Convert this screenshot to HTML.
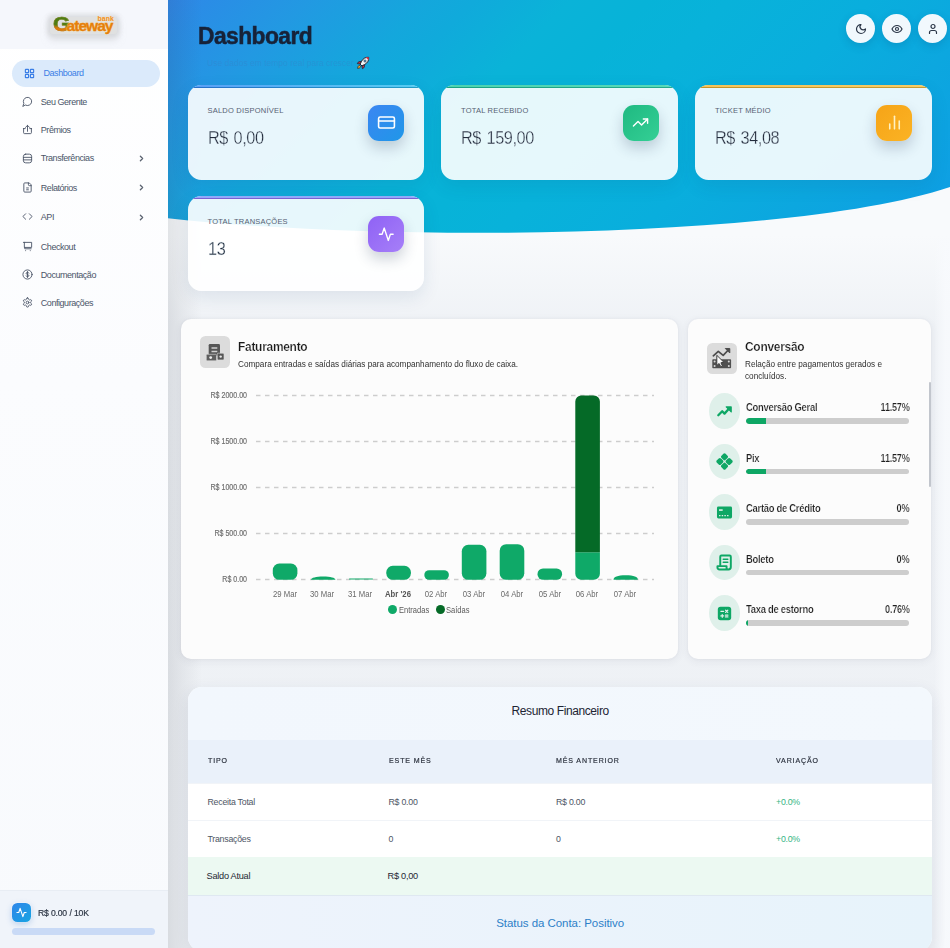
<!DOCTYPE html>
<html lang="pt-BR">
<head>
<meta charset="utf-8">
<title>Dashboard</title>
<style>
*{box-sizing:border-box;margin:0;padding:0}
html,body{width:950px;height:948px;overflow:hidden}
body{font-family:"Liberation Sans",sans-serif;background:linear-gradient(180deg,#f8fafc 0,#f8fafc 235px,#eff2f6 325px,#eef1f5 100%);position:relative;color:#334155}
.abs{position:absolute}
svg{display:block}
/* ---------- main backdrop ---------- */
#wave{position:absolute;left:168px;top:0;width:782px;height:260px}
#sideshadow{position:absolute;left:168px;top:0;width:34px;height:948px;background:linear-gradient(90deg,rgba(50,55,65,.115),rgba(50,55,65,.06) 45%,rgba(50,55,65,0))}
/* ---------- sidebar ---------- */
#sidebar{position:absolute;left:0;top:0;width:168px;height:948px;background:linear-gradient(180deg,#ffffff 0%,#fbfcfe 40%,#f8fafd 100%)}
#logo{position:absolute;left:0;top:0;width:168px;height:48.500px;background:#f5f7fc}
.nav{position:absolute;left:12px;width:148px;height:27px;border-radius:14px;font-size:9px;color:#4b5568;white-space:nowrap}
.nav svg{position:absolute;left:10px;top:8px;width:11px;height:11px;stroke:#4b5568;fill:none;stroke-width:2;stroke-linecap:round;stroke-linejoin:round}
.nav span{position:absolute;left:28.800px;top:8.800px;line-height:11px;letter-spacing:-.45px}
.nav .chev{left:125px;top:9.400px;width:9px;height:9px;stroke:#5b6370;stroke-width:3.500}
.nav.on{background:#dbeafb;color:#3b7fe6}
.nav.on svg{left:12px;stroke:#3b7fe6;stroke-width:2.500}
.nav.on span{left:31.5px}
#sfoot{position:absolute;left:0;top:890px;width:168px;height:58px;background:#f0f4fa;border-top:1px solid #e8edf4}

/* ---------- header ---------- */
#title{position:absolute;left:197.500px;top:20px;font-size:24.400px;font-weight:700;color:#172238;letter-spacing:-.6px;line-height:32px;-webkit-text-stroke:.5px #172238;transform:scaleX(.935);transform-origin:0 0}
#sub{position:absolute;left:207px;top:58px;font-size:8.500px;line-height:11px;color:rgba(60,120,190,.32);white-space:nowrap}
.cbtn{position:absolute;top:14px;width:29px;height:29px;border-radius:50%;background:#f1f8fd;box-shadow:0 3px 8px rgba(10,60,110,.18)}
.cbtn svg{position:absolute;left:8.500px;top:8.500px;width:12px;height:12px;fill:none;stroke:#2b3648;stroke-width:2.4;stroke-linecap:round;stroke-linejoin:round}
/* ---------- stat cards ---------- */
.stat{position:absolute;width:236.5px;height:95px;border-radius:13.5px;background:rgba(255,255,255,.9);overflow:hidden;box-shadow:0 6px 18px rgba(20,60,110,.10)}
.stat i{position:absolute;left:0;top:0;width:100%;height:3.600px}
.stat .lb{position:absolute;left:20px;top:21.600px;font-size:7.5px;line-height:10px;letter-spacing:.22px;color:#566173;white-space:nowrap}
.stat .vl{position:absolute;left:20px;top:41.100px;word-spacing:1.500px;transform:scaleX(.905);transform-origin:0 0;font-size:18px;line-height:24px;color:#222c3c;letter-spacing:-.45px;white-space:nowrap;-webkit-text-stroke:.33px #e9f5fc}
.stat .ic{position:absolute;left:180.500px;top:20.100px;width:36px;height:36.500px;border-radius:11px;box-shadow:0 7px 14px rgba(30,50,80,.22)}
.stat .ic svg{position:absolute;left:8.500px;top:8.750px;width:19px;height:19px;fill:none;stroke:#fff;stroke-width:2;stroke-linecap:round;stroke-linejoin:round}

/* ---------- chart + conversion cards ---------- */
.panel{position:absolute;top:319px;height:340.300px;background:#fcfcfc;border-radius:10px;box-shadow:0 2px 8px rgba(60,50,75,.075),0 0 3px rgba(60,50,75,.05)}
.pico{position:absolute;border-radius:5.500px;background:#dcdcdc}
.ptitle{position:absolute;font-size:12.800px;line-height:16px;font-weight:700;color:#1a1a1a;white-space:nowrap;letter-spacing:-.3px;transform:scaleX(.935);transform-origin:0 0;-webkit-text-stroke:.22px #fcfcfc}
.psub{position:absolute;font-size:9px;line-height:12px;color:#303030;white-space:nowrap;transform:scaleX(.91);transform-origin:0 0}
.yl{position:absolute;right:430.200px;width:60px;text-align:right;font-size:8.500px;line-height:10px;color:#707070;white-space:nowrap;transform:scaleX(.83);transform-origin:100% 0;-webkit-text-stroke:.2px #707070}
.xl{position:absolute;top:269.700px;width:44px;margin-left:-22px;text-align:center;font-size:8.600px;line-height:10px;color:#6a6a6a;white-space:nowrap;transform:scaleX(.9)}
.lg{position:absolute;top:285.800px;font-size:8.600px;line-height:10px;color:#5a5a5a;white-space:nowrap;transform:scaleX(.88);transform-origin:0 0}
.cv{position:absolute;left:19.500px;width:204px;height:34px}
.cv .c{position:absolute;left:1.500px;top:-1.100px;width:30.600px;height:35.400px;border-radius:50%;background:#dff0ea}
.cv .c svg{position:absolute;left:6.800px;top:9.200px;width:17px;height:17px}
.cv .n{position:absolute;left:38.800px;top:7.500px;font-size:10.300px;line-height:12px;font-weight:700;color:#1f1f1f;white-space:nowrap;letter-spacing:-.3px;transform:scaleX(.915);transform-origin:0 0;-webkit-text-stroke:.2px #fcfcfc}
.cv .p{position:absolute;right:2.300px;top:7.500px;font-size:10.300px;line-height:12px;font-weight:700;color:#1f1f1f;white-space:nowrap;letter-spacing:-.3px;transform:scaleX(.89);transform-origin:100% 0;-webkit-text-stroke:.2px #fcfcfc}
.cv .b{position:absolute;left:38.800px;top:23.500px;width:162.700px;height:5.800px;border-radius:3px;background:#cdcdcd;overflow:hidden}
.cv .b u{display:block;height:5.800px;background:#0ea765;border-radius:3px 0 0 3px}

/* ---------- table ---------- */
#tbl{position:absolute;left:188px;top:686.500px;width:744.300px;height:264px;border-radius:14px;overflow:hidden;background:#fff;box-shadow:0 4px 16px rgba(40,60,100,.09)}
#tbl .hd{position:absolute;left:0;top:0;width:100%;height:53px;background:linear-gradient(90deg,#f2f7fd,#f3f8fd)}
#tbl .hd div{position:absolute;left:0;width:100%;top:17.500px;text-align:center;font-size:12px;line-height:14px;color:#1d2433;letter-spacing:-.4px}
#tbl .th{position:absolute;left:0;top:53px;width:100%;height:43px;background:#eaf1fa}
#tbl .th span{position:absolute;top:16.500px;font-size:8px;line-height:10px;letter-spacing:1px;color:#2a303c;white-space:nowrap;-webkit-text-stroke:.2px #2a303c;transform:scaleX(.88);transform-origin:0 0}
#tbl .tr{position:absolute;left:0;width:100%;height:37.500px;background:#fff;border-top:1px solid #f1f4f8}
#tbl .tr span{position:absolute;top:13px;font-size:8.800px;line-height:11px;color:#4d5664;white-space:nowrap;letter-spacing:-.25px}
#tbl .ft{position:absolute;left:0;top:208.500px;width:100%;height:72px;background:linear-gradient(90deg,#eef3fc,#e7f3fb);border-top:1px solid #dfe8f1}
#tbl .ft div{position:absolute;left:0;width:100%;top:19.500px;text-align:center;font-size:11.500px;line-height:14px;color:#2d7fc8;letter-spacing:-.05px}
</style>
</head>
<body>

<!-- ===== backdrop ===== -->
<svg id="wave" viewBox="0 0 782 260" preserveAspectRatio="none">
  <defs>
    <linearGradient id="wg" gradientUnits="userSpaceOnUse" x1="0" y1="0" x2="500" y2="500">
      <stop offset="0" stop-color="#3087e9"/>
      <stop offset="0.042" stop-color="#2a8de6"/>
      <stop offset="0.14" stop-color="#2299e2"/>
      <stop offset="0.26" stop-color="#14a7dc"/>
      <stop offset="0.307" stop-color="#10aadb"/>
      <stop offset="0.402" stop-color="#0ab3d8"/>
      <stop offset="0.48" stop-color="#07b3d8"/>
      <stop offset="0.562" stop-color="#08b2da"/>
      <stop offset="0.702" stop-color="#09aedd"/>
      <stop offset="0.832" stop-color="#0ca7df"/>
      <stop offset="0.907" stop-color="#0da3e1"/>
      <stop offset="1" stop-color="#0f9ee4"/>
    </linearGradient>
  </defs>
  <path d="M0,0 L0,218.3 C 224,243 629,238.400 782,187 L782,0 Z" fill="url(#wg)"/>
</svg>
<div id="sideshadow"></div>
<div class="abs" style="left:934px;top:240px;width:16px;height:708px;background:linear-gradient(90deg,rgba(248,250,253,0),rgba(248,250,253,.85) 70%)"></div>


<!-- ===== header ===== -->
<div id="title">Dashboard</div>
<div id="sub">Use dados em tempo real para crescer</div>
<svg class="abs" style="left:356px;top:56px;width:14px;height:14px" viewBox="0 0 14 14">
  <path d="M12.700 1.300c-3-.3-5.600 1.100-7.400 4.200L4 8l2 2 2.500-1.300c3.100-1.800 4.500-4.400 4.200-7.400Z" fill="#f2f4f7" stroke="#1d2330" stroke-width="1"/>
  <path d="M12.700 1.300c-1-.1-2 0-2.900.3l2.600 2.600c.3-.9.400-1.900.3-2.900Z" fill="#e0344a"/>
  <path d="M5.300 5.500 2.600 5.800 1.300 7.600l2.700.4ZM8.500 8.700l-.3 2.700-1.800 1.300-.4-2.700Z" fill="#e0344a" stroke="#1d2330" stroke-width=".8"/>
  <path d="M3.600 9.300c-1.200.2-1.900 1.300-2 3.100 1.800-.1 2.900-.800 3.100-2Z" fill="#f7a928" stroke="#1d2330" stroke-width=".7"/>
  <circle cx="9" cy="5" r="1.100" fill="#6fb6e8" stroke="#1d2330" stroke-width=".6"/>
</svg>

<div class="cbtn" style="left:846px"><svg viewBox="0 0 24 24"><path d="M12 3a6 6 0 0 0 9 9 9 9 0 1 1-9-9Z"/></svg></div>
<div class="cbtn" style="left:882px"><svg viewBox="0 0 24 24"><path d="M2 12s3.500-7 10-7 10 7 10 7-3.500 7-10 7-10-7-10-7Z"/><circle cx="12" cy="12" r="3"/></svg></div>
<div class="cbtn" style="left:918px"><svg viewBox="0 0 24 24"><path d="M19 21v-2a4 4 0 0 0-4-4H9a4 4 0 0 0-4 4v2"/><circle cx="12" cy="7" r="4"/></svg></div>

<!-- ===== stat cards ===== -->
<div class="stat" style="left:187.500px;top:84.600px">
  <i style="background:linear-gradient(180deg,rgba(255,255,255,.2) 0,rgba(255,255,255,.2) 53%,rgba(0,20,40,.2) 58%,rgba(0,20,40,.2) 100%),linear-gradient(90deg,#2f86f4,#2bc0ee)"></i>
  <div class="lb">SALDO DISPONÍVEL</div><div class="vl">R$ 0,00</div>
  <div class="ic" style="background:linear-gradient(135deg,#3b86f2,#1f97e8)"><svg viewBox="0 0 24 24"><rect x="2" y="5" width="20" height="14" rx="2"/><path d="M2 10h20"/></svg></div>
</div>
<div class="stat" style="left:441px;top:84.600px">
  <i style="background:linear-gradient(180deg,rgba(255,255,255,.2) 0,rgba(255,255,255,.2) 53%,rgba(0,20,40,.2) 58%,rgba(0,20,40,.2) 100%),linear-gradient(90deg,#1fc79a,#2cd0a6)"></i>
  <div class="lb">TOTAL RECEBIDO</div><div class="vl">R$ 159,00</div>
  <div class="ic" style="left:181.500px;background:linear-gradient(135deg,#1fb981,#34cf95)"><svg viewBox="0 0 24 24" style="left:9.500px;top:9.750px;width:17px;height:17px"><path d="M22 7l-8.500 8.500-5-5L2 17"/><path d="M16 7h6v6"/></svg></div>
</div>
<div class="stat" style="left:695px;top:84.600px">
  <i style="background:linear-gradient(180deg,rgba(255,255,255,.2) 0,rgba(255,255,255,.2) 53%,rgba(0,20,40,.2) 58%,rgba(0,20,40,.2) 100%),linear-gradient(90deg,#f5b32c,#f7bf3a)"></i>
  <div class="lb">TICKET MÉDIO</div><div class="vl">R$ 34,08</div>
  <div class="ic" style="left:181px;background:linear-gradient(135deg,#f6a417,#fbb324)"><svg viewBox="0 0 24 24" style="stroke:#fff1c2"><path d="M18 20V10"/><path d="M12 20V4"/><path d="M6 20v-6"/></svg></div>
</div>
<div class="stat" style="left:187.500px;top:195.500px">
  <i style="background:linear-gradient(180deg,#92a8f9 0,#92a8f9 55%,#7b60d3 59%,#7b60d3 100%);height:3.800px"></i>
  <div class="lb">TOTAL TRANSAÇÕES</div><div class="vl">13</div>
  <div class="ic" style="background:linear-gradient(135deg,#8f62f5,#a67ff8)"><svg viewBox="0 0 24 24" style="left:9.750px;top:10px;width:16.500px;height:16.500px"><path d="M22 12h-4l-3 9L9 3l-3 9H2"/></svg></div>
</div>


<!-- ===== faturamento ===== -->
<div class="panel" style="left:180.500px;width:497px">
  <div class="pico" style="left:19.700px;top:17.300px;height:32.200px;width:30.200px">
    <svg class="abs" style="left:0;top:0;width:30.200px;height:32.200px" viewBox="0 0 30.200 32.200">
      <rect x="8.700" y="7.900" width="11.300" height="12" rx="1.300" fill="#565656"/>
      <path d="M11.500 11.900h5.800M11.500 15.400h5.800" stroke="#cfcfcf" stroke-width="1.500"/>
      <rect x="17.300" y="17.200" width="6.700" height="6.700" rx="1" fill="#565656" stroke="#dcdcdc" stroke-width=".6"/>
      <circle cx="20.700" cy="20.600" r="1.200" fill="#e6e6e6"/>
      <rect x="6.300" y="18.300" width="10.200" height="6.500" rx="1" fill="#5e5e5e" stroke="#dcdcdc" stroke-width=".6"/>
      <circle cx="10.700" cy="21.600" r="1.400" fill="#ececec"/>
    </svg>
  </div>
  <div class="ptitle" style="left:57.500px;top:19.500px">Faturamento</div>
  <div class="psub" style="left:57.500px;top:38.500px">Compara entradas e saídas diárias para acompanhamento do fluxo de caixa.</div>

  <div class="yl" style="top:71px">R$ 2000.00</div>
  <div class="yl" style="top:117px">R$ 1500.00</div>
  <div class="yl" style="top:163px">R$ 1000.00</div>
  <div class="yl" style="top:209px">R$ 500.00</div>
  <div class="yl" style="top:255px">R$ 0.00</div>

  <svg class="abs" style="left:70px;top:60px;width:420px;height:210px" viewBox="0 0 420 210">
    <g stroke="#cdcdcd" stroke-width="1.300" stroke-dasharray="4.500 4.500">
      <path d="M5 16.500H403"/><path d="M5 62.500H403"/><path d="M5 108.500H403"/><path d="M5 154.500H403"/><path d="M5 200.500H403"/>
    </g>
    <g fill="#0fa968">
      <rect x="21.800" y="184.600" width="24.600" height="16.200" rx="6.500"/>
      <path d="M60 200.800c0-2 5-3.300 12.200-3.300s12.200 1.300 12.200 3.300Z"/>
      <rect x="98" y="199.500" width="24" height="1" rx=".5"/>
      <rect x="135.300" y="186.800" width="24.600" height="14" rx="6.500"/>
      <rect x="173.300" y="191.200" width="24.600" height="9.600" rx="4.800"/>
      <rect x="210.800" y="165.800" width="24.600" height="35" rx="6.500"/>
      <rect x="248.700" y="165.200" width="24.600" height="35.600" rx="6.500"/>
      <rect x="286.500" y="189.500" width="24.600" height="11.300" rx="5.500"/>
      <path d="M324.300 173.300h24.600v21.500a6 6 0 0 1-6 6h-12.600a6 6 0 0 1-6-6Z"/>
      <path d="M362.500 200.800c0-2.800 4-4.500 12.200-4.500s12.200 1.700 12.200 4.500Z"/>
    </g>
    <path d="M324.300 173.300V22.500a6 6 0 0 1 6-6h12.600a6 6 0 0 1 6 6V173.300Z" fill="#056a27"/>
  </svg>

  <div class="xl" style="left:104.200px">29 Mar</div>
  <div class="xl" style="left:141.900px">30 Mar</div>
  <div class="xl" style="left:179.800px">31 Mar</div>
  <div class="xl" style="left:217.700px;font-weight:700;color:#555">Abr '26</div>
  <div class="xl" style="left:255.300px">02 Abr</div>
  <div class="xl" style="left:293px">03 Abr</div>
  <div class="xl" style="left:331px">04 Abr</div>
  <div class="xl" style="left:369px">05 Abr</div>
  <div class="xl" style="left:406.500px">06 Abr</div>
  <div class="xl" style="left:444.500px">07 Abr</div>

  <div class="abs" style="left:207px;top:286px;width:9px;height:9px;border-radius:50%;background:#0fa968"></div>
  <div class="lg" style="left:218px">Entradas</div>
  <div class="abs" style="left:255px;top:286px;width:9px;height:9px;border-radius:50%;background:#056a27"></div>
  <div class="lg" style="left:265.700px">Saídas</div>
</div>

<!-- ===== conversão ===== -->
<div class="panel" style="left:688.200px;width:243px">
  <div class="pico" style="left:19.100px;top:23.700px;height:31.400px;width:29.900px">
    <svg class="abs" style="left:0;top:0;width:29.900px;height:31.400px" viewBox="0 0 29.900 31.400">
      <path d="M6.300 12.800l5-4.400 4.900 3.900 5.600-5.800" fill="none" stroke="#4c4c4c" stroke-width="1.700" stroke-linecap="round" stroke-linejoin="round"/>
      <path d="M18.300 5.500h4.500v4.500Z" fill="#4c4c4c" stroke="#4c4c4c" stroke-width="1" stroke-linejoin="round"/>
      <rect x="5.300" y="16.200" width="18.800" height="9" rx=".8" fill="#505050"/>
      <circle cx="7.600" cy="18.500" r="1" fill="#d8d8d8"/><circle cx="7.600" cy="22.900" r="1" fill="#d8d8d8"/>
      <circle cx="21.800" cy="18.500" r="1" fill="#d8d8d8"/><circle cx="21.800" cy="22.900" r="1" fill="#d8d8d8"/>
      <path d="M9.800 12.300v10.200l2.300-2 1.700 3.200 1.700-.8-1.600-3.100 3-.5Z" fill="#fcfcfc" stroke="#3e3e3e" stroke-width="1" stroke-linejoin="round"/>
    </svg>
  </div>
  <div class="ptitle" style="left:57px;top:19.500px">Conversão</div>
  <div class="psub" style="left:57px;top:38.500px">Relação entre pagamentos gerados e</div>
  <div class="psub" style="left:57px;top:50.500px">concluídos.</div>
  <div class="abs" style="left:241px;top:63px;width:2px;height:105px;background:#c2c6cd;border-radius:1px"></div>

  <div class="cv" style="top:75.500px">
    <div class="c"><svg viewBox="0 0 17 17"><path d="M2.300 12.200l3.900-3.900 2.300 2.300 4.200-4.600" fill="none" stroke="#0ea765" stroke-width="2.300" stroke-linecap="round" stroke-linejoin="round"/><path d="M10.200 3.900h5v5Z" fill="#0ea765" stroke="#0ea765" stroke-width="1.200" stroke-linejoin="round"/></svg></div>
    <div class="n">Conversão Geral</div><div class="p">11.57%</div>
    <div class="b"><u style="width:19.500px"></u></div>
  </div>
  <div class="cv" style="top:126px">
    <div class="c"><svg viewBox="0 0 17 17"><g transform="rotate(45 8.500 8.500)" fill="#0ea765"><rect x="2.300" y="2.300" width="5.850" height="5.850" rx="1.600"/><rect x="8.850" y="2.300" width="5.850" height="5.850" rx="1.600"/><rect x="2.300" y="8.850" width="5.850" height="5.850" rx="1.600"/><rect x="8.850" y="8.850" width="5.850" height="5.850" rx="1.600"/></g></svg></div>
    <div class="n">Pix</div><div class="p">11.57%</div>
    <div class="b"><u style="width:19.500px"></u></div>
  </div>
  <div class="cv" style="top:176.500px">
    <div class="c"><svg viewBox="0 0 14 14"><rect x=".8" y="2" width="12.400" height="10" rx="1.200" fill="#0ea765"/><path d="M2.500 5h3" stroke="#e1f1ea" stroke-width="1.300"/><path d="M2.500 9.500h1.200M4.700 9.500h1.200M6.900 9.500h1.200M9.100 9.500h1.200" stroke="#e1f1ea" stroke-width="1"/></svg></div>
    <div class="n">Cartão de Crédito</div><div class="p">0%</div>
    <div class="b"></div>
  </div>
  <div class="cv" style="top:227px">
    <div class="c"><svg viewBox="0 0 14 14" fill="none" stroke="#0ea765" stroke-width="1.600" stroke-linejoin="round" stroke-linecap="round"><path d="M3.500 10V2.200a1 1 0 0 1 1-1h6.700a1 1 0 0 1 1 1v8.600a2 2 0 0 1-2 2H3a1.800 1.800 0 0 1-1.800-1.800V10h7.500v1a1.500 1.500 0 0 0 1.500 1.800"/><path d="M6 4.300h3.700M6 6.800h3.700" stroke-width="1.300"/></svg></div>
    <div class="n">Boleto</div><div class="p">0%</div>
    <div class="b"></div>
  </div>
  <div class="cv" style="top:277.500px">
    <div class="c"><svg viewBox="0 0 14 14"><rect x="1.500" y="1.500" width="11" height="11" rx="2.200" fill="#0ea765"/><path d="M4 5.200h2.300M7.900 4.300l1.800 1.800M9.700 4.300 7.900 6.100M4 9h2.300M5.150 7.850v2.300M7.800 8.400h2M7.800 9.800h2" stroke="#e1f1ea" stroke-width="1" stroke-linecap="round"/></svg></div>
    <div class="n">Taxa de estorno</div><div class="p">0.76%</div>
    <div class="b"><u style="width:2px"></u></div>
  </div>
</div>


<!-- ===== resumo ===== -->
<div id="tbl">
  <div class="hd"><div>Resumo Financeiro</div></div>
  <div class="th"><span style="left:19.500px">TIPO</span><span style="left:200.500px">ESTE MÊS</span><span style="left:368px">MÊS ANTERIOR</span><span style="left:588px">VARIAÇÃO</span></div>
  <div class="tr" style="top:96px"><span style="left:19.500px">Receita Total</span><span style="left:200.500px">R$ 0.00</span><span style="left:368px">R$ 0.00</span><span style="left:588px;color:#35b585">+0.0%</span></div>
  <div class="tr" style="top:133px"><span style="left:19.500px">Transações</span><span style="left:200.500px">0</span><span style="left:368px">0</span><span style="left:588px;color:#35b585">+0.0%</span></div>
  <div class="tr" style="top:170px;height:39px;background:#ecf9f2;border-top:none"><span style="left:18.500px;color:#1f2733;font-size:9.200px;top:14.500px">Saldo Atual</span><span style="left:199.500px;color:#1f2733;font-size:9.200px;top:14.500px">R$ 0,00</span></div>
  <div class="ft"><div>Status da Conta: Positivo</div></div>
</div>

<!-- ===== sidebar ===== -->
<div id="sidebar">
  <div id="logo">
    <div class="abs" style="left:50px;top:17px;width:67px;height:17px;border-radius:3px;background:#e0e1e1;box-shadow:0 0 4px 2.500px rgba(214,216,219,.9), 0 5px 7px 1px rgba(205,208,214,.55)"></div>
    <div class="abs" style="left:52.500px;top:11.500px;font-size:20.500px;line-height:24px;font-weight:700;transform:scaleX(1.08);transform-origin:0 0;background:linear-gradient(180deg,#4d7d12 0%,#4d7d12 52%,#de7a0c 66%,#de7a0c 100%);-webkit-background-clip:text;background-clip:text;color:transparent;-webkit-text-stroke:.6px rgba(150,120,20,.45)">G</div>
    <div class="abs" style="left:66.500px;top:15.500px;font-size:15.500px;line-height:20px;font-weight:700;letter-spacing:-.95px;color:#e5800c;text-shadow:0 0 1.500px #ffe6a8,0 0 1px #ffe6a8;-webkit-text-stroke:.35px #e5800c">ateway</div>
    <div class="abs" style="left:97.500px;top:14.800px;font-size:6.800px;line-height:8px;font-weight:700;letter-spacing:.1px;color:#ef8d1d;text-shadow:0 0 1px #ffe6a8">bank</div>
  </div>

  <div class="nav on" style="top:59.5px">
    <svg viewBox="0 0 24 24"><rect x="3" y="3" width="7" height="7" rx="1"/><rect x="14" y="3" width="7" height="7" rx="1"/><rect x="14" y="14" width="7" height="7" rx="1"/><rect x="3" y="14" width="7" height="7" rx="1"/></svg>
    <span>Dashboard</span>
  </div>
  <div class="nav" style="top:87.800px">
    <svg viewBox="0 0 24 24"><path d="M7.9 20A9 9 0 1 0 4 16.1L2 22Z"/></svg>
    <span>Seu Gerente</span>
  </div>
  <div class="nav" style="top:116.300px">
    <svg viewBox="0 0 24 24"><path d="M12 3v13"/><path d="M7.500 7.500 12 3l4.500 4.500"/><path d="M3 10h4M21 10h-4M3.500 10v9a2 2 0 0 0 2 2h13a2 2 0 0 0 2-2v-9"/></svg>
    <span>Prêmios</span>
  </div>
  <div class="nav" style="top:144.500px">
    <svg viewBox="0 0 24 24"><rect x="3" y="2.500" width="18" height="19" rx="5"/><path d="M3 9.500h18"/><path d="M3 15h18"/></svg>
    <span>Transferências</span>
    <svg class="chev" viewBox="0 0 24 24"><path d="M9 18l6-6-6-6"/></svg>
  </div>
  <div class="nav" style="top:173.800px">
    <svg viewBox="0 0 24 24"><path d="M15 2H6a2 2 0 0 0-2 2v16a2 2 0 0 0 2 2h12a2 2 0 0 0 2-2V7Z"/><path d="M14 2v4a2 2 0 0 0 2 2h4"/><path d="M10 13h4"/><path d="M10 17h4"/></svg>
    <span>Relatórios</span>
    <svg class="chev" viewBox="0 0 24 24"><path d="M9 18l6-6-6-6"/></svg>
  </div>
  <div class="nav" style="top:203.300px">
    <svg viewBox="0 0 24 24"><path d="M16 18l6-6-6-6"/><path d="M8 6l-6 6 6 6"/></svg>
    <span>API</span>
    <svg class="chev" viewBox="0 0 24 24"><path d="M9 18l6-6-6-6"/></svg>
  </div>
  <div class="nav" style="top:233px">
    <svg viewBox="0 0 24 24"><path d="M3 3h3"/><path d="M6 3h15v11H6z"/><path d="M6 14v3h14"/><path d="M8 21h.01"/><path d="M18 21h.01"/></svg>
    <span>Checkout</span>
  </div>
  <div class="nav" style="top:261px">
    <svg viewBox="0 0 24 24"><circle cx="12" cy="12" r="10"/><path d="M15 9a3 2.2 0 0 0-3-1.7c-1.7 0-3 .9-3 2.3 0 3 6 1.800 6 4.800 0 1.400-1.300 2.300-3 2.300a3 2.200 0 0 1-3-1.700"/><path d="M12 5.500v13"/></svg>
    <span>Documentação</span>
  </div>
  <div class="nav" style="top:289.100px">
    <svg viewBox="0 0 24 24"><path d="M12.220 2h-.44a2 2 0 0 0-2 2v.18a2 2 0 0 1-1 1.730l-.43.250a2 2 0 0 1-2 0l-.15-.08a2 2 0 0 0-2.730.73l-.22.380a2 2 0 0 0 .73 2.730l.15.100a2 2 0 0 1 1 1.720v.51a2 2 0 0 1-1 1.740l-.15.090a2 2 0 0 0-.73 2.730l.22.380a2 2 0 0 0 2.730.73l.15-.08a2 2 0 0 1 2 0l.43.250a2 2 0 0 1 1 1.730V20a2 2 0 0 0 2 2h.44a2 2 0 0 0 2-2v-.18a2 2 0 0 1 1-1.730l.43-.25a2 2 0 0 1 2 0l.15.080a2 2 0 0 0 2.730-.73l.22-.39a2 2 0 0 0-.73-2.730l-.15-.08a2 2 0 0 1-1-1.740v-.5a2 2 0 0 1 1-1.740l.15-.09a2 2 0 0 0 .73-2.730l-.22-.38a2 2 0 0 0-2.730-.73l-.15.080a2 2 0 0 1-2 0l-.43-.25a2 2 0 0 1-1-1.730V4a2 2 0 0 0-2-2z"/><circle cx="12" cy="12" r="3"/></svg>
    <span>Configurações</span>
  </div>

  <div id="sfoot">
    <div class="abs" style="left:11.500px;top:11.500px;width:19.500px;height:19.500px;border-radius:5.500px;background:linear-gradient(135deg,#2f86ea,#17a4e2);box-shadow:0 2px 6px rgba(40,110,200,.28),0 0 0 1px rgba(255,255,255,.55)">
      <svg class="abs" style="left:4.250px;top:4.250px;width:11px;height:11px" viewBox="0 0 24 24" fill="none" stroke="#fff" stroke-width="2.400" stroke-linecap="round" stroke-linejoin="round"><path d="M22 12h-4l-3 9L9 3l-3 9H2"/></svg>
    </div>
    <div class="abs" style="left:37.500px;top:16.500px;font-size:9.300px;line-height:11px;color:#2a3342;white-space:nowrap;letter-spacing:-.3px;word-spacing:.5px;transform:scaleX(.93);transform-origin:0 0;-webkit-text-stroke:.18px #2a3342">R$ 0.00 / 10K</div>
    <div class="abs" style="left:11.500px;top:37.300px;width:143.500px;height:7px;border-radius:3.500px;background:#c9daf6"></div>
  </div>
</div>

</body>
</html>
